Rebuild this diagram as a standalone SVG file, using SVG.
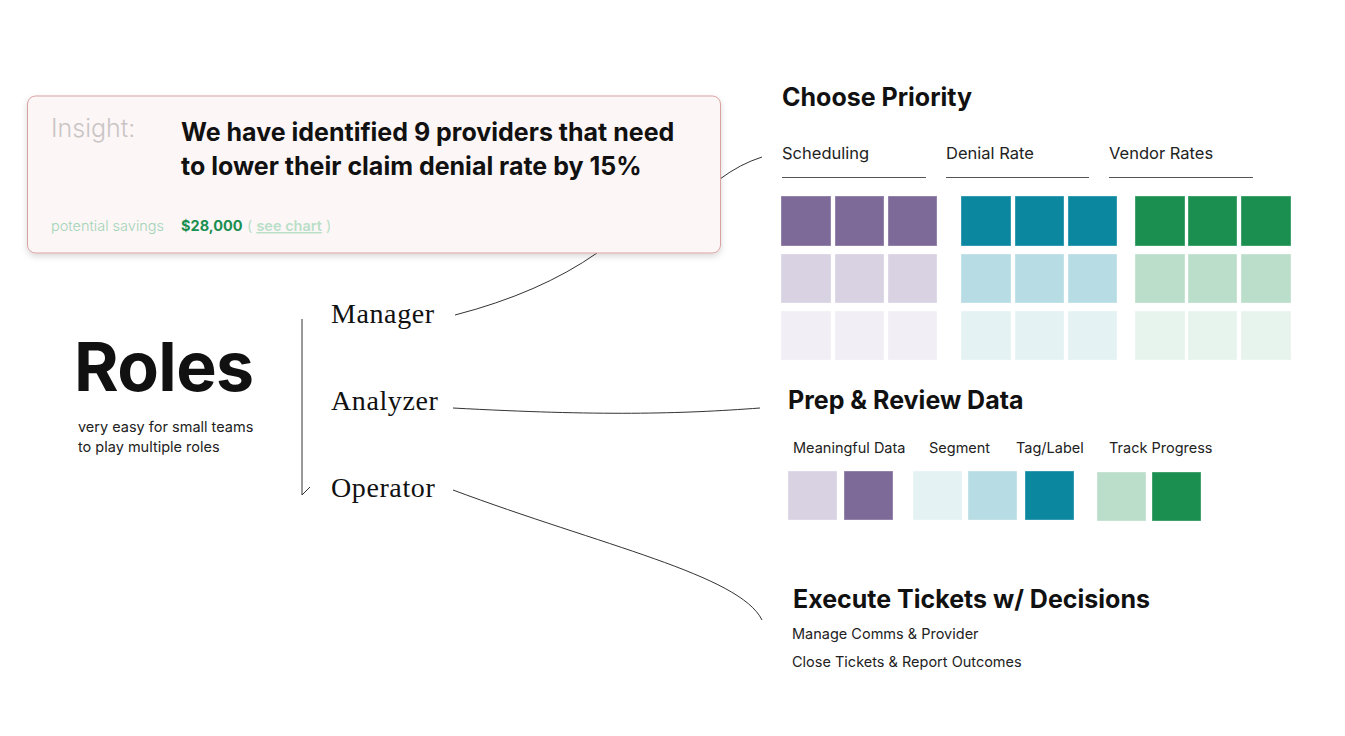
<svg xmlns="http://www.w3.org/2000/svg" width="1345" height="736" viewBox="0 0 1345 736">
<defs>
<filter id="sh" x="-5%" y="-10%" width="110%" height="130%">
<feDropShadow dx="0" dy="3" stdDeviation="3" flood-color="#000" flood-opacity="0.15"/>
</filter>
</defs>
<style>
.sans{font-family:Inter,"Liberation Sans",sans-serif}
.serif{font-family:"Liberation Serif",serif;font-size:28px;letter-spacing:0.6px;fill:#111}
.h{font-family:Inter,"Liberation Sans",sans-serif;font-weight:700;font-size:25px;fill:#111}
.s{font-family:Inter,"Liberation Sans",sans-serif;font-size:16.5px;fill:#222}
.sm{font-family:Inter,"Liberation Sans",sans-serif;font-size:14.5px;fill:#222}
.conn{fill:none;stroke:#333;stroke-width:1}
.sq{stroke:#fff;stroke-opacity:0.35;stroke-width:1}
.p1{fill:#7e6a99}.p2{fill:#d9d2e2}.p3{fill:#f1eff5}
.t1{fill:#0b87a0}.t2{fill:#b7dce3}.t3{fill:#e4f2f3}
.g1{fill:#1a8f50}.g2{fill:#bbdecb}.g3{fill:#e7f4ed}
.ul{stroke:#555;stroke-width:1}
</style>
<rect width="1345" height="736" fill="#fff"/>

<g id="connectors">
<path class="conn" d="M455,315 Q540,293 597,253"/>
<path class="conn" d="M720,179 Q740,164 762,157"/>
<path class="conn" d="M453,408 C600,416 680,414 760,408"/>
<path class="conn" d="M453,490 C600,545 740,575 762,620"/>
<path class="conn" d="M302,319 L302,495 L310,487"/>
</g>

<g id="insight">
<rect x="27.5" y="96" width="693" height="157" rx="8" fill="#fdf6f6" stroke="#d9a1a1" stroke-width="1" filter="url(#sh)"/>
<text class="sans" x="51" y="137" font-size="25" font-weight="300" fill="#c9c5c5">Insight:</text>
<text class="sans" x="181" y="141" font-size="25" font-weight="700" fill="#111">We have identified 9 providers that need</text>
<text class="sans" x="181" y="175" font-size="25" font-weight="700" fill="#111">to lower their claim denial rate by 15%</text>
<text class="sans" x="51" y="231" font-size="14.5" font-weight="300" fill="#a3d4b6">potential savings</text>
<text class="sans" x="181" y="231" font-size="14.5" font-weight="700" fill="#1a8f50">$28,000</text>
<text class="sans" x="247" y="231" font-size="14.5" font-weight="400" fill="#b9dfc8">( <tspan text-decoration="underline" font-weight="600">see chart</tspan> )</text>
</g>

<g id="roles">
<text class="sans" x="74" y="391" font-size="68" font-weight="700" fill="#111" letter-spacing="-0.6">Roles</text>
<text class="sm" x="78" y="432">very easy for small teams</text>
<text class="sm" x="78" y="452">to play multiple roles</text>
</g>

<g id="manager"><text class="serif" x="331" y="323">Manager</text></g>
<g id="analyzer"><text class="serif" x="331" y="410">Analyzer</text></g>
<g id="operator"><text class="serif" x="331" y="497">Operator</text></g>

<g id="choose-priority">
<text class="h" x="782" y="106">Choose Priority</text>
<text class="s" x="782" y="159">Scheduling</text>
<text class="s" x="946" y="159">Denial Rate</text>
<text class="s" x="1109" y="159">Vendor Rates</text>
<line class="ul" x1="782" y1="177.5" x2="926" y2="177.5"/>
<line class="ul" x1="946" y1="177.5" x2="1089" y2="177.5"/>
<line class="ul" x1="1109" y1="177.5" x2="1253" y2="177.5"/>
<rect class="sq p1" x="781" y="196" width="50" height="50"/>
<rect class="sq p1" x="835" y="196" width="49" height="50"/>
<rect class="sq p1" x="888" y="196" width="49" height="50"/>
<rect class="sq p2" x="781" y="254" width="50" height="49"/>
<rect class="sq p2" x="835" y="254" width="49" height="49"/>
<rect class="sq p2" x="888" y="254" width="49" height="49"/>
<rect class="sq p3" x="781" y="311" width="50" height="49"/>
<rect class="sq p3" x="835" y="311" width="49" height="49"/>
<rect class="sq p3" x="888" y="311" width="49" height="49"/>
<rect class="sq t1" x="961" y="196" width="50" height="50"/>
<rect class="sq t1" x="1015" y="196" width="49" height="50"/>
<rect class="sq t1" x="1068" y="196" width="49" height="50"/>
<rect class="sq t2" x="961" y="254" width="50" height="49"/>
<rect class="sq t2" x="1015" y="254" width="49" height="49"/>
<rect class="sq t2" x="1068" y="254" width="49" height="49"/>
<rect class="sq t3" x="961" y="311" width="50" height="49"/>
<rect class="sq t3" x="1015" y="311" width="49" height="49"/>
<rect class="sq t3" x="1068" y="311" width="49" height="49"/>
<rect class="sq g1" x="1135" y="196" width="50" height="50"/>
<rect class="sq g1" x="1188" y="196" width="49" height="50"/>
<rect class="sq g1" x="1241" y="196" width="50" height="50"/>
<rect class="sq g2" x="1135" y="254" width="50" height="49"/>
<rect class="sq g2" x="1188" y="254" width="49" height="49"/>
<rect class="sq g2" x="1241" y="254" width="50" height="49"/>
<rect class="sq g3" x="1135" y="311" width="50" height="49"/>
<rect class="sq g3" x="1188" y="311" width="49" height="49"/>
<rect class="sq g3" x="1241" y="311" width="50" height="49"/>
</g>

<g id="prep-review">
<text class="h" x="788" y="409">Prep &amp; Review Data</text>
<text class="sm" x="793" y="453">Meaningful Data</text>
<text class="sm" x="929" y="453">Segment</text>
<text class="sm" x="1016" y="453">Tag/Label</text>
<text class="sm" x="1109" y="453">Track Progress</text>
<rect class="sq p2" x="788" y="471" width="49" height="49"/>
<rect class="sq p1" x="844" y="471" width="49" height="49"/>
<rect class="sq t3" x="913" y="471" width="49" height="49"/>
<rect class="sq t2" x="968" y="471" width="49" height="49"/>
<rect class="sq t1" x="1025" y="471" width="49" height="49"/>
<rect class="sq g2" x="1097" y="472" width="49" height="49"/>
<rect class="sq g1" x="1152" y="472" width="49" height="49"/>
</g>

<g id="execute-tickets">
<text class="h" x="793" y="608">Execute Tickets w/ Decisions</text>
<text class="sm" x="792" y="639">Manage Comms &amp; Provider</text>
<text class="sm" x="792" y="667">Close Tickets &amp; Report Outcomes</text>
</g>
</svg>
